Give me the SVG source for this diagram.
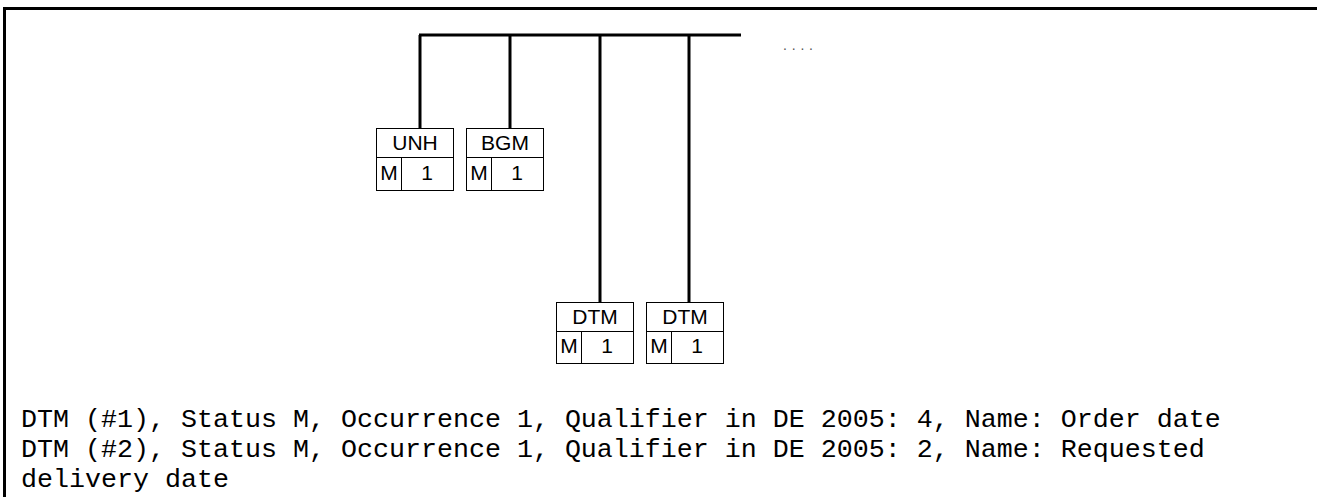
<svg xmlns="http://www.w3.org/2000/svg" width="1317" height="497" viewBox="0 0 1317 497">
<style>
.box{fill:#fff;stroke:#000;stroke-width:1}
.div{stroke:#000;stroke-width:1;fill:none}
.bt{font-family:"Liberation Sans",Arial,sans-serif;font-size:21px;fill:#000;text-anchor:middle}
.wire{stroke:#000;stroke-width:3;fill:none}
.desc{font-family:"Liberation Mono","Courier New",monospace;font-size:26.67px;fill:#000}
</style>
<rect width="1317" height="497" fill="#fff"/>
<path d="M4.5 497 V8.5 H1317" fill="none" stroke="#000" stroke-width="3"/>
<g id="connectors">
<path class="wire" d="M419 35 H741"/>
<path class="wire" d="M420 35 V128"/>
<path class="wire" d="M510 35 V128"/>
<path class="wire" d="M600 35 V302"/>
<path class="wire" d="M689 35 V302"/>
</g>
<text x="783" y="50" font-family="Liberation Sans,Arial,sans-serif" font-size="14" letter-spacing="4.8" fill="#555">....</text>
<g id="unh">
<rect class="box" x="376.5" y="128.5" width="77" height="62"/>
<path class="div" d="M376.5 157.5 H453.5 M401.5 157.5 V190.5"/>
<text class="bt" x="415" y="150">UNH</text>
<text class="bt" x="389" y="180">M</text>
<text class="bt" x="427" y="180">1</text>
</g>
<g id="bgm">
<rect class="box" x="466.5" y="128.5" width="77" height="62"/>
<path class="div" d="M466.5 157.5 H543.5 M491.5 157.5 V190.5"/>
<text class="bt" x="505" y="150">BGM</text>
<text class="bt" x="479" y="180">M</text>
<text class="bt" x="517" y="180">1</text>
</g>
<g id="dtm1">
<rect class="box" x="556.5" y="302.5" width="77" height="61"/>
<path class="div" d="M556.5 331.5 H633.5 M581.5 331.5 V363.5"/>
<text class="bt" x="595" y="324">DTM</text>
<text class="bt" x="569" y="353">M</text>
<text class="bt" x="607" y="353">1</text>
</g>
<g id="dtm2">
<rect class="box" x="646.5" y="302.5" width="77" height="61"/>
<path class="div" d="M646.5 331.5 H723.5 M671.5 331.5 V363.5"/>
<text class="bt" x="685" y="324">DTM</text>
<text class="bt" x="659" y="353">M</text>
<text class="bt" x="697" y="353">1</text>
</g>
<text class="desc" x="21" y="427">DTM (#1), Status M, Occurrence 1, Qualifier in DE 2005: 4, Name: Order date</text>
<text class="desc" x="21" y="457">DTM (#2), Status M, Occurrence 1, Qualifier in DE 2005: 2, Name: Requested</text>
<text class="desc" x="21" y="487">delivery date</text>
</svg>
